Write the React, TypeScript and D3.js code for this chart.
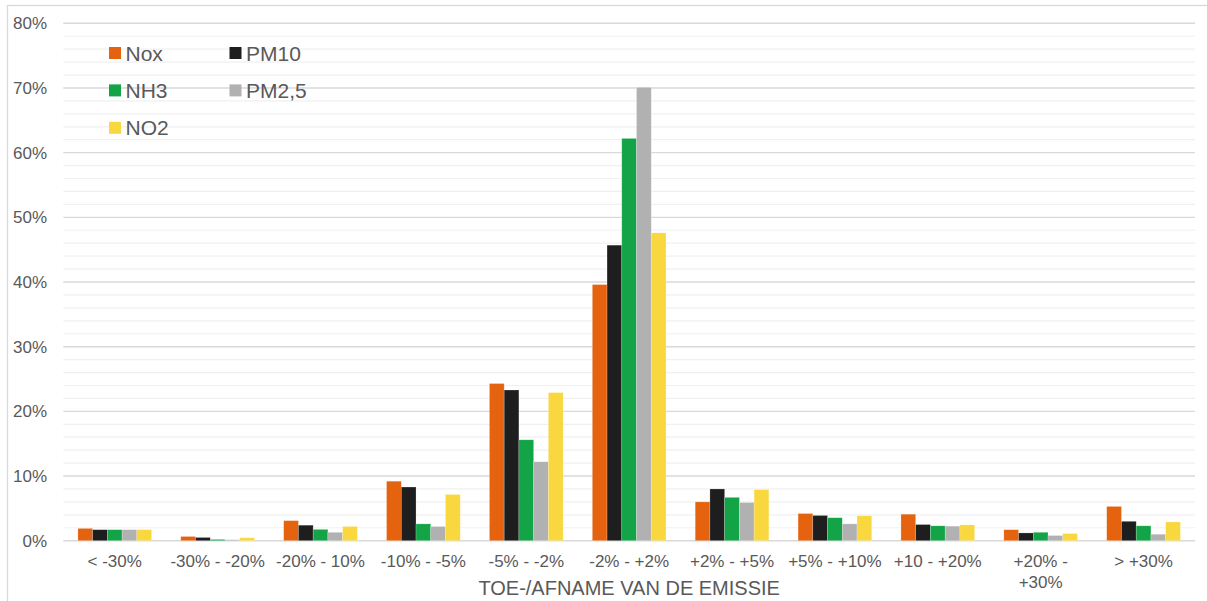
import React from "react";
import * as d3 from "d3";

// Emission change classes (x axis)
const categories: string[] = [
  "< -30%",
  "-30% - -20%",
  "-20% - 10%",
  "-10% - -5%",
  "-5% - -2%",
  "-2% - +2%",
  "+2% - +5%",
  "+5% - +10%",
  "+10 - +20%",
  "+20% - +30%",
  "> +30%",
];

const seriesNames: string[] = ["Nox", "PM10", "NH3", "PM2,5", "NO2"];
const seriesColors: string[] = ["#E5620F", "#1E1E1E", "#12A446", "#B1B1B1", "#F9D73F"];

// Share of locations per class, in percent
const nox: number[] = [1.9, 0.65, 3.1, 9.2, 24.3, 39.6, 6.0, 4.2, 4.1, 1.7, 5.3];
const pm10: number[] = [1.7, 0.5, 2.4, 8.3, 23.3, 45.7, 8.0, 3.9, 2.5, 1.2, 3.0];
const nh3: number[] = [1.7, 0.2, 1.75, 2.6, 15.6, 62.2, 6.7, 3.55, 2.3, 1.3, 2.3];
const pm25: number[] = [1.7, 0.15, 1.3, 2.2, 12.2, 70.1, 5.9, 2.6, 2.25, 0.8, 1.0];
const no2: number[] = [1.7, 0.45, 2.2, 7.15, 22.9, 47.6, 7.9, 3.85, 2.45, 1.1, 2.9];

const seriesValues: number[][] = [nox, pm10, nh3, pm25, no2];

const yTicks: number[] = [0, 10, 20, 30, 40, 50, 60, 70, 80];
const axisTitle = "TOE-/AFNAME VAN DE EMISSIE";

const W = 1207;
const H = 601;
const FONT = "'Liberation Sans', Arial, sans-serif";
const TEXT = "#595959";

const plot = { left: 63.3, right: 1195, top: 23.3, bottom: 540.7 };

function wrapLabel(label: string, maxWidth: number, fontSize: number): string[] {
  const canvas = document.createElement("canvas");
  const ctx = canvas.getContext("2d");
  if (!ctx) return [label];
  ctx.font = `${fontSize}px ${FONT}`;
  if (ctx.measureText(label).width <= maxWidth) return [label];
  const words = label.split(" ");
  const lines: string[] = [];
  let cur = "";
  for (const w of words) {
    const test = cur ? cur + " " + w : w;
    if (ctx.measureText(test).width > maxWidth && cur) {
      lines.push(cur);
      cur = w;
    } else {
      cur = test;
    }
  }
  if (cur) lines.push(cur);
  return lines;
}

export default function App() {
  const x = d3.scaleBand<string>().domain(categories).range([plot.left, plot.right]).padding(0);
  const bw = x.bandwidth();
  const groupWidth = bw * 0.716;
  const xInner = d3.scaleBand<string>().domain(seriesNames).range([0, groupWidth]).padding(0);
  const y = d3.scaleLinear().domain([0, 80]).range([plot.bottom, plot.top]);

  const minorTicks = d3.range(0, 81, 2).filter((v) => v % 10 !== 0);

  return (
    <svg
      width={W}
      height={H}
      style={{ position: "absolute", left: 0, top: 0, background: "#fff" }}
      fontFamily={FONT}
    >
      <rect x={7.5} y={5.5} width={W + 10} height={H + 10} fill="#fff" stroke="#D9D9D9" strokeWidth={1.3} />

      {/* minor gridlines */}
      {minorTicks.map((v) => (
        <line key={"m" + v} x1={plot.left} x2={plot.right} y1={y(v)} y2={y(v)} stroke="#F0F0F0" strokeWidth={1.2} />
      ))}
      {/* major gridlines */}
      {yTicks.map((v) => (
        <line key={"g" + v} x1={plot.left} x2={plot.right} y1={y(v)} y2={y(v)} stroke="#D9D9D9" strokeWidth={1.4} />
      ))}

      {/* y tick labels */}
      {yTicks.map((v) => (
        <text key={"t" + v} x={47} y={y(v) + 6} textAnchor="end" fontSize={17} fill={TEXT}>
          {v + "%"}
        </text>
      ))}

      {/* bars */}
      {seriesNames.map((s, si) =>
        categories.map((c, ci) => {
          const v = seriesValues[si][ci];
          const bx = (x(c) ?? 0) + (bw - groupWidth) / 2 + (xInner(s) ?? 0);
          return (
            <rect
              key={s + c}
              x={bx}
              y={y(v)}
              width={xInner.bandwidth()}
              height={y(0) - y(v)}
              fill={seriesColors[si]}
              stroke="#ffffff"
              strokeOpacity={0.35}
              strokeWidth={0.6}
            />
          );
        })
      )}

      {/* x tick labels */}
      {categories.map((c) => {
        const lines = wrapLabel(c, 99, 17);
        const cx = (x(c) ?? 0) + bw / 2;
        return (
          <text key={"x" + c} x={cx} y={567} textAnchor="middle" fontSize={17} fill={TEXT}>
            {lines.map((l, i) => (
              <tspan key={i} x={cx} dy={i === 0 ? 0 : 20.6}>
                {l}
              </tspan>
            ))}
          </text>
        );
      })}

      {/* axis title */}
      <text x={(plot.left + plot.right) / 2} y={595} textAnchor="middle" fontSize={20} fill={TEXT}>
        {axisTitle}
      </text>

      {/* legend */}
      {seriesNames.map((s, i) => {
        const col = i % 2;
        const row = Math.floor(i / 2);
        const lx = 109 + col * 120.5;
        const cy = 53 + row * 37.4;
        return (
          <g key={"l" + s}>
            <rect x={lx} y={cy - 6} width={12} height={12} fill={seriesColors[i]} />
            <text x={lx + 16.5} y={cy + 7.5} fontSize={21} fill={TEXT}>
              {s}
            </text>
          </g>
        );
      })}
    </svg>
  );
}
